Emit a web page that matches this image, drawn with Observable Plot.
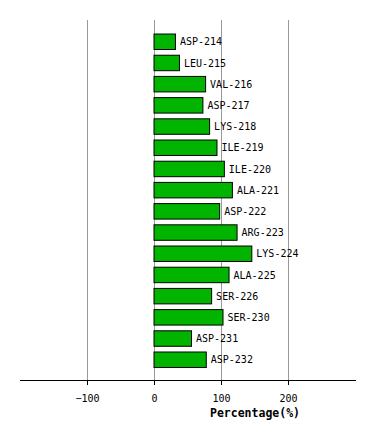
<!DOCTYPE html>
<html>
<head>
<meta charset="utf-8">
<script src="https://cdn.jsdelivr.net/npm/d3@7"></script>
<script src="https://cdn.jsdelivr.net/npm/@observablehq/plot@0.6"></script>
<style>
  html, body { margin: 0; padding: 0; background: #fff; }
  #chart svg { display: block; }
</style>
</head>
<body>
<div id="chart"></div>
<script>
const residues = ["ASP-214","LEU-215","VAL-216","ASP-217","LYS-218","ILE-219","ILE-220","ALA-221","ASP-222","ARG-223","LYS-224","ALA-225","SER-226","SER-230","ASP-231","ASP-232"];
const percentages = [32, 38, 77, 73, 83, 94, 105, 117, 98, 124, 146, 112, 86, 103, 56, 78];
const xTicks = [-100, 0, 100, 200];
const axisTitle = "Percentage(%)";
const axisTitleX = 150;

const data = residues.map((r, i) => ({residue: r, value: percentages[i]}));
const font = "'DejaVu Sans Mono', monospace";

const chart = Plot.plot({
  width: 374,
  height: 440,
  marginLeft: 20,
  marginRight: 19,
  marginTop: 20,
  marginBottom: 60,
  style: {fontFamily: font, fontSize: "10px", color: "#000", background: "#fff"},
  x: {domain: [-200, 300], ticks: xTicks},
  y: {domain: residues, range: [28.3, 373.2], padding: 0.27, round: false, axis: null},
  marks: [
    Plot.gridX(xTicks, {stroke: "#999", strokeOpacity: 1, strokeWidth: 1}),
    Plot.frame({anchor: "bottom", stroke: "#000"}),
    Plot.axisX(xTicks, {tickSize: 5, tickPadding: 9, label: null, fontSize: 10, fill: "#000", stroke: "#000"}),
    Plot.barX(data, {x: "value", y: "residue", fill: "#00b400", stroke: "#000", strokeWidth: 1}),
    Plot.text(data, {x: "value", y: "residue", text: "residue", textAnchor: "start", dx: 4, fontSize: 10, fill: "#000"}),
    Plot.text([axisTitle], {x: () => axisTitleX, text: d => d, frameAnchor: "bottom", dy: 36, fontWeight: "bold", fontSize: 11.5, fill: "#000"})
  ]
});
document.getElementById("chart").appendChild(chart);
</script>
</body>
</html>
